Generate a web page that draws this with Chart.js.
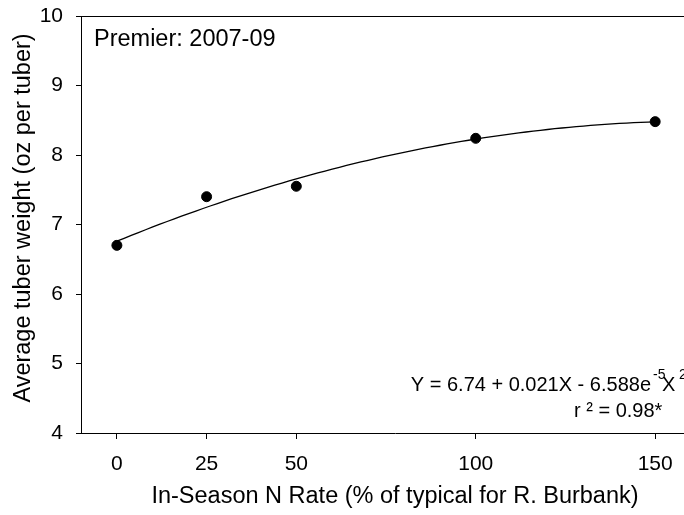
<!DOCTYPE html>
<html>
<head>
<meta charset="utf-8">
<script src="https://cdn.jsdelivr.net/npm/chart.js@4.4.0/dist/chart.umd.min.js"></script>
<style>
body { margin: 0; background: #fff; }
#clip { width: 684px; height: 515px; overflow: hidden; }
#wrap { width: 715px; height: 515px; }
</style>
</head>
<body>
<div id="clip"><div id="wrap"><canvas id="myChart"></canvas></div></div>
<script>
// in-season N rate (% of typical for R. Burbank) vs average tuber weight (oz)
var nRate = [0, 25, 50, 100, 150];
var tuberWeight = [6.70, 7.40, 7.55, 8.24, 8.48];

var xTicks = [0, 25, 50, 100, 150];
var yTicks = [4, 5, 6, 7, 8, 9, 10];

var yTitle = 'Average tuber weight (oz per tuber)';
var xTitle = 'In-Season N Rate (% of typical for R. Burbank)';
var panelLabel = 'Premier: 2007-09';
var eqMain = 'Y = 6.74 + 0.021X - 6.588e';
var eqExp = '-5';
var eqVar = 'X';
var eqSq = '2';
var r2Label = 'r \u00b2 = 0.98*';

// quadratic regression of the points (the fitted curve)
function quadFit(xs, ys) {
    var s = [0, 0, 0, 0, 0], t = [0, 0, 0];
    for (var i = 0; i < xs.length; i++) {
        for (var k = 0; k < 5; k++) s[k] += Math.pow(xs[i], k);
        for (var k = 0; k < 3; k++) t[k] += ys[i] * Math.pow(xs[i], k);
    }
    var m = [[s[0], s[1], s[2], t[0]], [s[1], s[2], s[3], t[1]], [s[2], s[3], s[4], t[2]]];
    for (var c = 0; c < 3; c++) {
        for (var r = c + 1; r < 3; r++) {
            var f = m[r][c] / m[c][c];
            for (var j = c; j < 4; j++) m[r][j] -= f * m[c][j];
        }
    }
    var out = [0, 0, 0];
    for (var r = 2; r >= 0; r--) {
        var v = m[r][3];
        for (var j = r + 1; j < 3; j++) v -= m[r][j] * out[j];
        out[r] = v / m[r][r];
    }
    return out;
}

var coef = quadFit(nRate, tuberWeight);
var fitLine = [];
for (var x = nRate[0]; x <= nRate[nRate.length - 1]; x += 2) {
    fitLine.push({ x: x, y: coef[0] + coef[1] * x + coef[2] * x * x });
}

var points = nRate.map(function (v, i) { return { x: v, y: tuberWeight[i] }; });

var FONT = "'Liberation Sans', Arial, sans-serif";
Chart.defaults.font.family = FONT;
Chart.defaults.color = '#000';

// top frame line, y title and the text notes inside the plot
var notesPlugin = {
    id: 'notes',
    afterDraw: function (chart) {
        var c = chart.ctx, a = chart.chartArea;
        c.save();
        c.strokeStyle = '#000';
        c.lineWidth = 1;
        c.beginPath();
        c.moveTo(a.left, a.top + 0.5);
        c.lineTo(a.right, a.top + 0.5);
        c.stroke();

        c.fillStyle = '#000';
        c.save();
        c.translate(24, 218);
        c.rotate(-Math.PI / 2);
        c.font = '23.5px ' + FONT;
        c.textAlign = 'center';
        c.textBaseline = 'middle';
        c.fillText(yTitle, 0, 0);
        c.restore();

        c.textBaseline = 'alphabetic';
        c.font = '23.5px ' + FONT;
        c.textAlign = 'left';
        c.fillText(panelLabel, 94, 46);

        c.font = '20px ' + FONT;
        c.textAlign = 'right';
        c.fillText(eqMain, 651, 391);
        c.textAlign = 'left';
        c.fillText(eqVar, 662, 391);
        c.font = '14px ' + FONT;
        c.fillText(eqExp, 653, 379);
        c.fillText(eqSq, 679, 379);

        c.font = '20px ' + FONT;
        c.fillText(r2Label, 574, 417);
        c.restore();
    }
};

var ctx = document.getElementById('myChart').getContext('2d');

var mychart = new Chart(ctx, {
    type: 'scatter',
    data: {
        datasets: [{
            data: points,
            backgroundColor: '#000',
            borderColor: '#000',
            pointRadius: 5,
            pointHoverRadius: 5,
            order: 0
        }, {
            data: fitLine,
            showLine: true,
            borderColor: '#000',
            borderWidth: 1.3,
            pointRadius: 0,
            pointHoverRadius: 0,
            fill: false,
            order: 1
        }]
    },
    options: {
        responsive: true,
        maintainAspectRatio: false,
        animation: false,
        layout: { padding: { top: 16, right: 0, left: 0, bottom: 0 } },
        plugins: { legend: { display: false }, tooltip: { enabled: false } },
        scales: {
            x: {
                type: 'linear',
                min: -10,
                max: 165,
                afterBuildTicks: function (s) { s.ticks = xTicks.map(function (v) { return { value: v }; }); },
                afterFit: function (s) { s.height = 82; s.paddingLeft = 0; s.paddingRight = 0; },
                ticks: { font: { size: 21 }, padding: 13, maxRotation: 0, autoSkip: false },
                grid: { drawOnChartArea: false, tickLength: 6, color: '#000' },
                border: { color: '#000', width: 1 },
                title: {
                    display: true,
                    text: xTitle,
                    font: { size: 23.5 },
                    padding: { top: 0, bottom: 4 }
                }
            },
            y: {
                min: 4,
                max: 10,
                afterBuildTicks: function (s) { s.ticks = yTicks.map(function (v) { return { value: v }; }); },
                afterFit: function (s) { s.width = 81; s.paddingTop = 0; s.paddingBottom = 0; },
                ticks: { font: { size: 21 }, padding: 13 },
                grid: { drawOnChartArea: false, tickLength: 5, color: '#000' },
                border: { color: '#000', width: 1 }
            }
        }
    },
    plugins: [notesPlugin]
});
</script>
</body>
</html>
